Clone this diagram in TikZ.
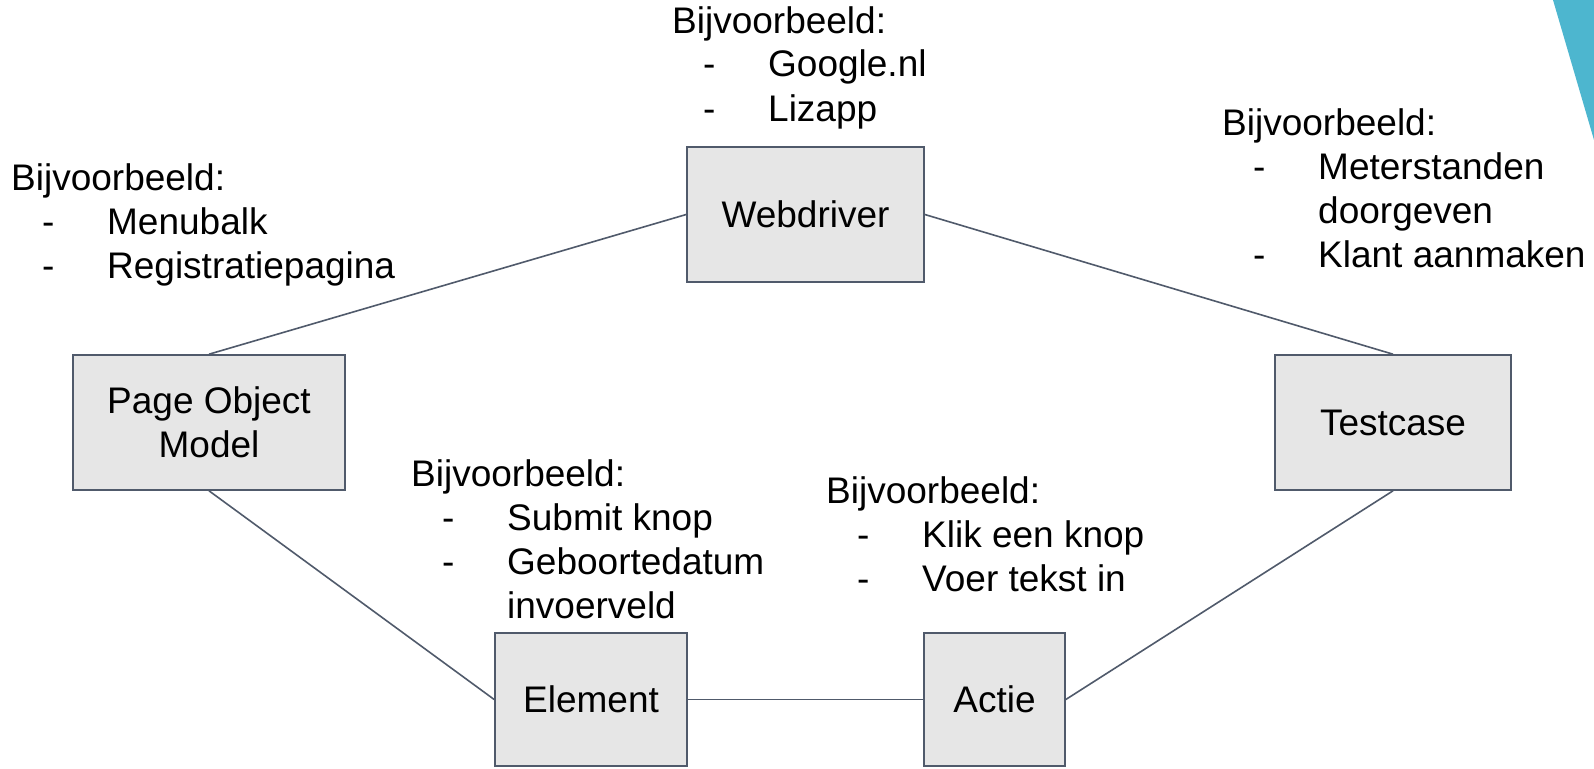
\documentclass[tikz,border=0pt]{standalone}
\usepackage{fontspec}
\setmainfont{Liberation Sans}
\definecolor{boxfill}{HTML}{E6E6E6}
\definecolor{edge}{HTML}{505A6B}
\definecolor{accent}{HTML}{4DB6CF}
\newcommand\dashitem[1]{\makebox[96pt][l]{\hspace{31pt}-}#1}
\newcommand\contline[1]{\hspace*{96pt}#1}
\begin{document}
\begin{tikzpicture}[x=1pt,y=-1pt,
  txt/.style={font=\fontsize{37}{44}\selectfont},
  box/.style={txt, draw=edge, line width=1.6pt, fill=boxfill, inner sep=0pt, align=center},
  note/.style={txt, anchor=base west, inner sep=0pt, align=left},
  conn/.style={draw=edge, line width=1.6pt}]
\useasboundingbox (0,0) rectangle (1594,768);
\fill[white] (0,0) rectangle (1594,768);
\fill[accent] (1553,0) -- (1594,0) -- (1594,140) -- cycle;
% boxes
\node[box, minimum width=237pt, minimum height=135pt] (web) at (805.5,214.5) {Webdriver};
\node[box, minimum width=272pt, minimum height=135pt] (pom) at (209,422.5) {Page Object\\Model};
\node[box, minimum width=236pt, minimum height=135pt] (test) at (1393,422.5) {Testcase};
\node[box, minimum width=192pt, minimum height=133pt] (elem) at (591,699.5) {Element};
\node[box, minimum width=141pt, minimum height=133pt] (actie) at (994.5,699.5) {Actie};
% connectors
\draw[conn] (pom.north) -- (web.west);
\draw[conn] (web.east) -- (test.north);
\draw[conn] (pom.south) -- (elem.west);
\draw[conn] (elem.east) -- (actie.west);
\draw[conn] (actie.east) -- (test.south);
% notes (anchor = baseline of the last line)
\node[note] (n1) at (672,121) {Bijvoorbeeld:\\\dashitem{Google.nl}\\\dashitem{Lizapp}};
\node[note] (n2) at (11,278) {Bijvoorbeeld:\\\dashitem{Menubalk}\\\dashitem{Registratiepagina}};
\node[note] (n3) at (1222,267) {Bijvoorbeeld:\\\dashitem{Meterstanden}\\\contline{doorgeven}\\\dashitem{Klant aanmaken}};
\node[note] (n4) at (411,618) {Bijvoorbeeld:\\\dashitem{Submit knop}\\\dashitem{Geboortedatum}\\\contline{invoerveld}};
\node[note] (n5) at (826,591) {Bijvoorbeeld:\\\dashitem{Klik een knop}\\\dashitem{Voer tekst in}};
\end{tikzpicture}
\end{document}
